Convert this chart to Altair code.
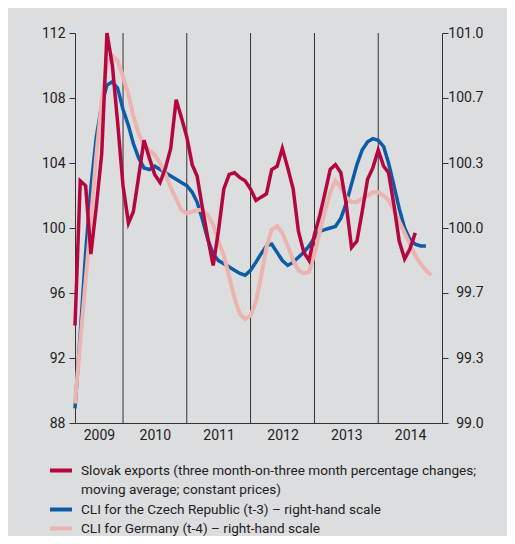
import altair as alt
import pandas as pd

# ---------------- data (monthly, starting April 2009) ----------------
start_month = "2009-04-01"

slovak_exports = [
    94.0, 102.9, 102.6, 98.4, 101.3, 104.6, 112.0, 110.0, 106.5,                  # 2009 Apr-Dec
    102.6, 100.3, 101.0, 103.2, 105.4, 104.3, 103.3, 102.8, 103.7, 104.9, 107.9, 106.8,  # 2010
    105.6, 103.9, 103.2, 101.2, 99.4, 97.7, 99.8, 102.4, 103.3, 103.4, 103.1, 102.9,     # 2011
    102.4, 101.7, 101.9, 102.1, 103.6, 103.8, 104.9, 103.7, 102.4, 99.8, 98.5, 98.0,     # 2012
    99.6, 100.8, 102.1, 103.6, 103.9, 103.4, 101.5, 98.8, 99.2, 101.0, 103.0, 103.7,     # 2013
    104.8, 103.8, 103.4, 101.4, 99.2, 98.1, 98.7, 99.7,                                # 2014
]

cli_czech = [
    99.075, 99.458, 99.875, 100.208, 100.467, 100.633, 100.733, 100.750, 100.717,
    100.608, 100.525, 100.433, 100.358, 100.308, 100.300, 100.317, 100.300, 100.283, 100.267, 100.250, 100.233,
    100.217, 100.183, 100.133, 100.042, 99.942, 99.867, 99.833, 99.817, 99.800, 99.783, 99.767, 99.758,
    99.783, 99.825, 99.867, 99.908, 99.917, 99.875, 99.833, 99.808, 99.825, 99.850, 99.875, 99.908,
    99.950, 99.983, 99.992, 100.000, 100.008, 100.050, 100.125, 100.225, 100.325, 100.400, 100.442, 100.458,
    100.450, 100.417, 100.333, 100.217, 100.100, 100.000, 99.942, 99.917, 99.908, 99.908,
]

cli_germany = [
    99.100, 99.417, 99.733, 100.042, 100.375, 100.650, 100.850, 100.883, 100.858,
    100.775, 100.683, 100.575, 100.483, 100.425, 100.400, 100.375, 100.333, 100.275, 100.208, 100.150, 100.092,
    100.075, 100.083, 100.092, 100.092, 100.067, 100.017, 99.933, 99.858, 99.750, 99.642, 99.558, 99.533,
    99.550, 99.625, 99.750, 99.900, 99.992, 100.008, 99.975, 99.908, 99.833, 99.783, 99.767, 99.775,
    99.867, 99.983, 100.083, 100.183, 100.242, 100.208, 100.158, 100.133, 100.133, 100.150, 100.167, 100.183,
    100.183, 100.167, 100.142, 100.092, 100.033, 99.975, 99.917, 99.858, 99.817, 99.783, 99.758,
]

year_boundaries = ["2010-01-01", "2011-01-01", "2012-01-01", "2013-01-01", "2014-01-01"]
year_label_positions = [(2009, 8, 16), (2010, 7, 2), (2011, 7, 2), (2012, 7, 2), (2013, 7, 2), (2014, 7, 2)]

left_ticks = [88, 92, 96, 100, 104, 108, 112]
right_ticks = [99.0, 99.3333, 99.6667, 100.0, 100.3333, 100.6667, 101.0]

legend_lines = [
    "Slovak exports (three month-on-three month percentage changes;",
    "moving average; constant prices)",
    "CLI for the Czech Republic (t-3) – right-hand scale",
    "CLI for Germany (t-4) – right-hand scale",
]

RED = "#b5063f"
BLUE = "#0d5ca6"
PINK = "#ebb4ae"
AXIS = "#333333"
TEXT = "#222222"
FONT = "Roboto"


def monthly(values):
    dates = pd.date_range(start_month, periods=len(values), freq="MS").strftime("%Y-%m-%d")
    return pd.DataFrame({"date": dates, "value": values})


red_df = monthly(slovak_exports)
cz_df = monthly(cli_czech)
de_df = monthly(cli_germany)
bound_df = pd.DataFrame({"date": year_boundaries})

x_scale = alt.Scale(
    type="utc",
    domain=[alt.DateTime(year=2009, month=4, date=1, utc=True),
            alt.DateTime(year=2015, month=1, date=1, utc=True)],
)
x_axis = alt.Axis(
    values=[alt.DateTime(year=y, month=m, date=d, utc=True) for (y, m, d) in year_label_positions],
    format="%Y", ticks=False, tickSize=0, grid=False, domain=True, domainColor=AXIS,
    labelPadding=5, labelFlush=False, labelFontSize=14, labelColor=TEXT, title=None,
)
x_enc = alt.X("date:T", scale=x_scale, axis=x_axis)

rules = alt.Chart(bound_df).mark_rule(color=AXIS, strokeWidth=1).encode(x=x_enc)

red = alt.Chart(red_df).mark_line(color=RED, strokeWidth=3.5, strokeJoin="miter").encode(
    x=x_enc,
    y=alt.Y("value:Q",
            scale=alt.Scale(domain=[88, 112], nice=False, zero=False),
            axis=alt.Axis(orient="left", values=left_ticks, tickSize=6, tickColor=AXIS,
                          domainColor=AXIS, grid=False, labelPadding=4, labelFontSize=14,
                          labelColor=TEXT, title=None)),
)

right_y_axis = alt.Axis(orient="right", values=right_ticks, format=".1f", tickSize=6, tickColor=AXIS,
                        domainColor=AXIS, grid=False, labelAlign="right", labelPadding=35,
                        labelFontSize=14, labelColor=TEXT, title=None)
right_y_scale = alt.Scale(domain=[99, 101], nice=False, zero=False)

cz = alt.Chart(cz_df).mark_line(color=BLUE, strokeWidth=3.5).encode(
    x=x_enc, y=alt.Y("value:Q", scale=right_y_scale, axis=right_y_axis))
de = alt.Chart(de_df).mark_line(color=PINK, strokeWidth=4).encode(
    x=x_enc, y=alt.Y("value:Q", scale=right_y_scale, axis=right_y_axis))

right_layer = alt.layer(cz, de)

# ---------------- legend (below the plot) ----------------
legend_rows_y = [437.5, 457.0, 476.5, 495.5]
legend_colors = [RED, None, BLUE, PINK]
legend_layers = []
for label, ypos, col in zip(legend_lines, legend_rows_y, legend_colors):
    ldf = pd.DataFrame({"label": [label]})
    legend_layers.append(
        alt.Chart(ldf).mark_text(align="left", baseline="middle", fontSize=13.6, color=TEXT, font=FONT)
        .encode(x=alt.value(6), y=alt.value(ypos), text=alt.Text("label:N"))
    )
    if col is not None:
        legend_layers.append(
            alt.Chart(ldf).mark_rule(color=col, strokeWidth=4)
            .encode(x=alt.value(-25), x2=alt.value(-3), y=alt.value(ypos))
        )

chart = (
    alt.layer(rules, right_layer, red, *legend_layers)
    .resolve_scale(y="independent")
    .properties(
        width=367, height=390,
        autosize=alt.AutoSizeParams(type="none"),
        padding={"left": 67, "top": 25, "right": 65, "bottom": 113},
    )
    .configure(background="#dcdddf", font=FONT)
    .configure_view(stroke=None)
    .configure_axis(labelFont=FONT)
)

chart.save("out.html", embed_options={"renderer": "svg", "actions": False})
